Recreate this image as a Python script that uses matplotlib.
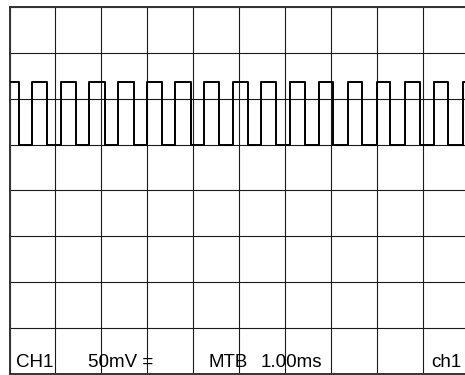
import matplotlib
matplotlib.use("Agg")
import matplotlib.pyplot as plt

# Data (time in ms, voltage in mV; 50 mV/div, 1 ms/div)
rising_edges_ms = [0.49, 1.12, 1.74, 2.37, 2.99, 3.61, 4.23, 4.86, 5.48, 6.11,
                   6.73, 7.36, 7.99, 8.61, 9.23, 9.87]
falling_edges_ms = [0.20, 0.81, 1.45, 2.07, 2.70, 3.31, 3.95, 4.56, 5.19, 5.80,
                    6.43, 7.05, 7.68, 8.29, 8.93, 9.55]
high_level_mv = 118
low_level_mv = 50
start_level_mv = high_level_mv

x_ticks_ms = list(range(0, 11))
y_ticks_mv = list(range(-200, 201, 50))

label_channel = "CH1"
label_volts = "50mV ="
label_mtb = "MTB"
label_time = "1.00ms"
label_ch = "ch1"

# Build the step trace from the edges
events = sorted([(t, high_level_mv) for t in rising_edges_ms] +
                [(t, low_level_mv) for t in falling_edges_ms])
xs = [0.0] + [t for t, _ in events] + [10.0]
ys = [start_level_mv] + [v for _, v in events] + [events[-1][1]]

plt.rcParams['font.family'] = ['Liberation Sans', 'DejaVu Sans']

W, H = 465, 375
fig = plt.figure(figsize=(W / 100, H / 100), dpi=100)
left_px, right_px, top_px, bottom_px = 9.5, 469.0, 7.3, 373.5
ax = fig.add_axes([left_px / W, (H - bottom_px) / H,
                   (right_px - left_px) / W, (bottom_px - top_px) / H])

ax.set_xlim(0, 10)
ax.set_ylim(-200, 200)
ax.set_xticks(x_ticks_ms)
ax.set_yticks(y_ticks_mv)
ax.tick_params(length=0, labelbottom=False, labelleft=False)
ax.grid(True, color='#1a1a1a', linewidth=0.8)
ax.set_axisbelow(True)
for s in ax.spines.values():
    s.set_color('#333333')
    s.set_linewidth(1.4)

ax.step(xs, ys, where='post', color='black', linewidth=1.4, zorder=3)

fs = 13.5
base_y = -200 + 0.135 * 50
ax.text(0.15, base_y, label_channel, fontsize=fs, va='baseline', ha='left')
ax.text(1.71, base_y, label_volts, fontsize=fs, va='baseline', ha='left')
ax.text(4.34, base_y, label_mtb, fontsize=fs, va='baseline', ha='left')
ax.text(5.46, base_y, label_time, fontsize=fs, va='baseline', ha='left')
ax.text(9.17, base_y, label_ch, fontsize=fs, va='baseline', ha='left')

fig.savefig("out.png", dpi=100)
